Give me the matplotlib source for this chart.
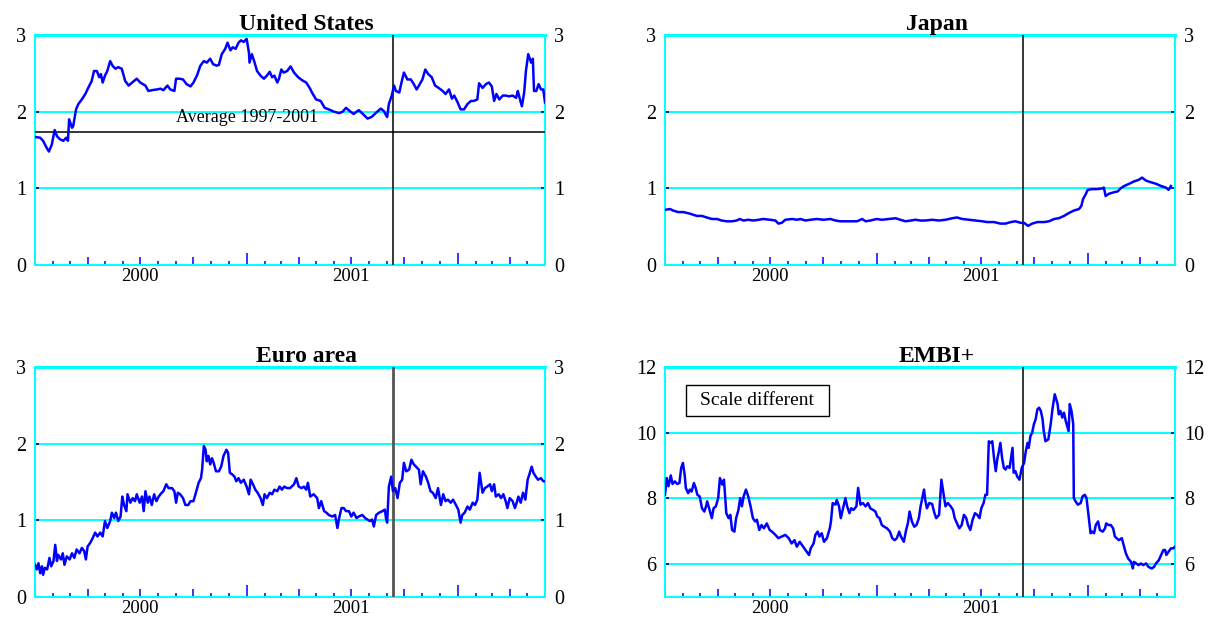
import matplotlib
matplotlib.use("Agg")
import matplotlib.pyplot as plt
import matplotlib.dates as mdates
from matplotlib.patches import Rectangle
import pandas as pd

plt.rcParams['font.family'] = ['Liberation Serif', 'DejaVu Serif']

# ---------------- data (x = days since 2000-01-01) ----------------
BASE_DATE = "2000-01-01"

us_days = [0, 9, 14, 20, 24, 29, 34, 38, 43, 49,
           54, 57, 59, 64, 66, 71, 75, 81, 87, 92,
           98, 102, 107, 111, 114, 117, 121, 125, 130, 134,
           139, 144, 150, 156, 162, 168, 176, 182, 191, 196,
           202, 211, 217, 222, 229, 234, 241, 244, 250, 256,
           262, 269, 274, 280, 286, 292, 297, 303, 308, 314,
           318, 323, 329, 333, 338, 342, 347, 352, 356, 361,
           366, 370, 371, 375, 379, 384, 390, 396, 401, 406,
           410, 414, 419, 422, 426, 430, 436, 442,
           448, 455, 462, 469, 475, 479, 486, 494, 501, 508,
           517, 526, 532, 538, 544, 551, 560, 567, 575, 582,
           589, 598, 603, 609, 612, 617, 621, 624, 630, 635,
           638, 644, 650, 655, 660, 664, 670, 675, 680, 686,
           692, 698, 705, 710, 716, 721, 725, 731, 736, 742,
           748, 754, 759, 765, 768, 774, 780, 785, 790, 794,
           798, 803, 809, 814, 820, 826, 832, 835, 837, 842,
           846, 849, 853, 858, 861, 863, 867, 871, 875, 879,
           882]
us_vals = [1.67, 1.66, 1.62, 1.53, 1.48, 1.57, 1.76, 1.68, 1.64, 1.62,
           1.66, 1.62, 1.90, 1.79, 1.81, 2.03, 2.10, 2.16, 2.23, 2.31,
           2.40, 2.53, 2.53, 2.45, 2.49, 2.38, 2.47, 2.53, 2.66, 2.60,
           2.56, 2.58, 2.56, 2.40, 2.34, 2.38, 2.43, 2.38, 2.34, 2.27,
           2.28, 2.29, 2.30, 2.28, 2.34, 2.29, 2.27, 2.43, 2.43, 2.42,
           2.36, 2.33, 2.38, 2.47, 2.60, 2.66, 2.64, 2.69, 2.62, 2.60,
           2.61, 2.75, 2.82, 2.90, 2.80, 2.84, 2.82, 2.90, 2.93, 2.91,
           2.95, 2.77, 2.64, 2.75, 2.66, 2.53, 2.47, 2.43, 2.47, 2.52,
           2.45, 2.47, 2.38, 2.43, 2.55, 2.51, 2.53, 2.59,
           2.51, 2.45, 2.41, 2.38, 2.31, 2.25, 2.16, 2.14, 2.05, 2.03,
           2.00, 1.98, 2.00, 2.05, 2.01, 1.97, 2.02, 1.97, 1.91, 1.93,
           1.98, 2.04, 2.01, 1.93, 2.10, 2.21, 2.34, 2.27, 2.25, 2.42,
           2.51, 2.42, 2.42, 2.36, 2.29, 2.34, 2.42, 2.55, 2.49, 2.45,
           2.34, 2.31, 2.27, 2.23, 2.29, 2.17, 2.21, 2.12, 2.03, 2.03,
           2.10, 2.14, 2.14, 2.16, 2.37, 2.31, 2.36, 2.38, 2.33, 2.14,
           2.23, 2.16, 2.21, 2.21, 2.20, 2.21, 2.18, 2.27, 2.21, 2.07,
           2.25, 2.53, 2.75, 2.64, 2.69, 2.27, 2.27, 2.36, 2.29, 2.29,
           2.12]
us_average = 1.74

jp_days = [0, 9, 14, 23, 32, 43, 55, 64, 72, 81,
           90, 98, 107, 116, 124, 129, 136, 144, 153, 162,
           170, 182, 191, 196, 202, 208, 220, 228, 234, 243,
           251, 263, 274, 286, 295, 303, 315, 323, 332, 341,
           347, 355, 366, 375, 387, 399, 407, 416, 425, 433,
           442, 450, 462, 474, 485, 497, 505, 514, 526, 537,
           549, 557, 569, 580, 589, 598, 606, 615, 621, 628,
           635, 644, 656, 664, 673, 681, 690, 699, 707, 716,
           720, 723, 728, 731, 739, 748, 757, 759, 762, 768,
           777, 783, 788, 794, 803, 811, 819, 825, 832, 840,
           849, 858, 866, 871, 875]
jp_vals = [0.72, 0.73, 0.71, 0.69, 0.69, 0.67, 0.64, 0.64, 0.62, 0.60,
           0.60, 0.58, 0.57, 0.57, 0.58, 0.60, 0.58, 0.59, 0.58, 0.59,
           0.60, 0.59, 0.58, 0.54, 0.55, 0.59, 0.60, 0.59, 0.60, 0.58,
           0.59, 0.60, 0.59, 0.60, 0.58, 0.57, 0.57, 0.57, 0.57, 0.60,
           0.57, 0.58, 0.60, 0.59, 0.60, 0.61, 0.59, 0.57, 0.58, 0.59,
           0.58, 0.58, 0.59, 0.58, 0.59, 0.61, 0.62, 0.60, 0.59, 0.58,
           0.57, 0.56, 0.56, 0.54, 0.54, 0.56, 0.57, 0.55, 0.55, 0.51,
           0.54, 0.56, 0.56, 0.57, 0.60, 0.61, 0.64, 0.68, 0.71, 0.73,
           0.77, 0.86, 0.93, 0.98, 0.99, 0.99, 1.00, 1.01, 0.90, 0.93,
           0.95, 0.96, 1.00, 1.03, 1.06, 1.09, 1.11, 1.14, 1.10, 1.08,
           1.06, 1.03, 1.01, 0.98, 1.03]

eu_days = [0, 3, 6, 9, 12, 14, 17, 21, 25, 28,
           32, 35, 38, 40, 45, 48, 51, 55, 60, 64,
           68, 72, 77, 81, 85, 88, 91, 95, 100, 104,
           108, 113, 117, 121, 125, 130, 133, 137, 140, 144,
           148, 151, 154, 158, 160, 165, 169, 173, 176, 181,
           185, 188, 191, 195, 198, 202, 206, 210, 214, 218,
           222, 227, 231, 237, 241, 244, 247, 251, 256, 260,
           265, 269, 274, 279, 283, 287, 289, 292, 295, 297,
           300, 303, 306, 309, 313, 318, 322, 326, 331, 334,
           337, 341, 345, 348, 352, 356, 361, 366, 370, 373,
           377, 381, 385, 390, 394, 397, 401, 406, 410, 414,
           419, 423, 427, 431, 436, 441,
           448, 452, 456, 461, 465, 469, 472, 476, 482, 488,
           491, 495, 500, 504, 508, 514, 519, 523, 526, 530,
           534, 538, 543, 547, 551, 556, 560, 566, 571, 575,
           579, 583, 586, 590, 595, 601, 605, 607, 609, 612,
           616, 619, 623, 627, 631, 635, 638, 642, 647, 651,
           655, 659, 664, 667, 671, 676, 680, 684, 688, 693,
           697, 702, 706, 710, 714, 719, 723, 728, 732, 736,
           739, 743, 748, 752, 757, 761, 765, 769, 774, 778,
           782, 787, 790, 794, 797, 802, 806, 810, 814, 817,
           821, 826, 830, 833, 836, 840, 844, 848, 852, 855,
           859, 862, 866, 870, 875, 879, 882]
eu_vals = [0.42, 0.36, 0.44, 0.31, 0.40, 0.29, 0.38, 0.36, 0.51, 0.40,
           0.47, 0.68, 0.47, 0.55, 0.49, 0.57, 0.42, 0.53, 0.49, 0.57,
           0.51, 0.62, 0.57, 0.64, 0.60, 0.49, 0.66, 0.70, 0.77, 0.84,
           0.79, 0.84, 0.79, 0.99, 0.90, 0.99, 1.10, 1.03, 1.10, 0.99,
           1.05, 1.31, 1.20, 1.12, 1.34, 1.23, 1.29, 1.25, 1.34, 1.23,
           1.31, 1.12, 1.38, 1.23, 1.31, 1.20, 1.34, 1.25, 1.31, 1.35,
           1.38, 1.47, 1.42, 1.42, 1.38, 1.23, 1.36, 1.34, 1.29, 1.20,
           1.20, 1.25, 1.25, 1.38, 1.49, 1.55, 1.66, 1.97, 1.92, 1.77,
           1.84, 1.73, 1.81, 1.75, 1.64, 1.64, 1.70, 1.84, 1.92, 1.88,
           1.62, 1.60, 1.57, 1.51, 1.55, 1.49, 1.53, 1.44, 1.34, 1.53,
           1.47, 1.40, 1.36, 1.29, 1.20, 1.34, 1.29, 1.36, 1.34, 1.40,
           1.38, 1.44, 1.40, 1.44, 1.42, 1.42,
           1.47, 1.55, 1.44, 1.42, 1.44, 1.40, 1.49, 1.31, 1.34, 1.29,
           1.16, 1.25, 1.12, 1.10, 1.07, 1.05, 1.07, 0.90, 1.03, 1.16,
           1.16, 1.12, 1.12, 1.05, 1.10, 1.03, 1.05, 1.07, 1.03, 1.01,
           0.99, 1.01, 0.92, 1.07, 1.10, 1.12, 1.14, 1.03, 0.97, 1.44,
           1.57, 1.38, 1.42, 1.29, 1.49, 1.53, 1.75, 1.64, 1.66, 1.79,
           1.73, 1.70, 1.66, 1.47, 1.64, 1.57, 1.49, 1.38, 1.36, 1.29,
           1.42, 1.20, 1.34, 1.25, 1.27, 1.23, 1.27, 1.20, 1.14, 0.97,
           1.07, 1.10, 1.18, 1.14, 1.23, 1.20, 1.27, 1.62, 1.36, 1.42,
           1.44, 1.47, 1.38, 1.47, 1.31, 1.34, 1.29, 1.34, 1.25, 1.16,
           1.29, 1.25, 1.16, 1.23, 1.31, 1.23, 1.36, 1.27, 1.53, 1.60,
           1.70, 1.62, 1.57, 1.53, 1.55, 1.51, 1.51]

embi_days = [0, 3, 6, 10, 13, 17, 21, 25, 28, 31,
             34, 36, 40, 43, 46, 50, 53, 56, 60, 64,
             68, 71, 73, 77, 81, 84, 88, 92, 95, 99,
             102, 106, 110, 113, 116, 120, 123, 127, 130, 133,
             136, 140, 144, 148, 152, 156, 159, 163, 167, 171,
             176, 181, 185, 191, 196, 202, 208, 214, 219, 224,
             228, 233, 237, 241, 245, 249, 252, 257, 260, 264,
             267, 271, 275, 280, 285, 287, 290, 295, 297, 301,
             304, 308, 312, 315, 319, 322, 326, 331, 334, 338,
             342, 347, 351, 355, 360, 364, 367, 371, 375, 379,
             384, 389, 393, 397, 401, 405, 408, 413, 417, 420,
             423, 427, 431, 435, 439, 442,
             448, 450, 453, 457, 462, 466, 469, 474, 478, 482,
             485, 489, 494, 498, 501, 505, 509, 513, 517, 521,
             524, 528, 532, 536, 540, 544, 547, 551, 554, 557,
             560, 563, 566, 569, 572, 575, 577, 580, 583, 586,
             589, 592, 596, 601, 603, 606, 609, 613, 617, 621,
             624, 627, 629, 632, 635, 638, 641, 644, 647, 650,
             653, 655, 658, 663, 667, 670, 674, 679, 681, 684,
             687, 690, 693, 698, 700, 703, 706, 707, 710, 714,
             719, 722, 726, 729, 733, 736, 739, 742, 745, 749,
             752, 757, 761, 763, 767, 771, 775, 778, 781, 785,
             790, 794, 797, 801, 806, 809, 811, 815, 819, 823,
             827, 832, 836, 839, 842, 846, 849, 854, 858, 862,
             865, 867, 871, 875, 879, 882, 885]
embi_vals = [8.11, 8.62, 8.37, 8.70, 8.44, 8.52, 8.44, 8.47, 8.93, 9.08,
             8.72, 8.32, 8.16, 8.27, 8.21, 8.47, 8.32, 8.11, 8.06, 7.70,
             7.60, 7.76, 7.91, 7.65, 7.40, 7.70, 7.76, 8.01, 8.62, 8.42,
             8.57, 7.55, 7.40, 7.50, 7.04, 6.99, 7.40, 7.65, 8.01, 7.76,
             8.06, 8.27, 8.06, 7.76, 7.40, 7.30, 7.35, 7.04, 7.19, 7.09,
             7.24, 7.04, 6.99, 6.89, 6.79, 6.84, 6.89, 6.79, 6.63, 6.73,
             6.53, 6.68, 6.58, 6.48, 6.38, 6.28, 6.48, 6.63, 6.89, 6.99,
             6.84, 6.94, 6.68, 6.79, 7.09, 7.30, 7.86, 7.81, 7.96, 7.76,
             7.40, 7.70, 8.01, 7.76, 7.55, 7.70, 7.65, 7.76, 8.32, 7.81,
             7.86, 7.76, 7.86, 7.70, 7.65, 7.60, 7.45, 7.40, 7.19, 7.14,
             7.09, 6.99, 6.79, 6.73, 6.79, 6.99, 6.84, 6.68, 7.04, 7.24,
             7.60, 7.30, 7.14, 7.19, 7.40, 7.76,
             8.27, 7.96, 7.70, 7.86, 7.83, 7.55, 7.40, 7.50, 8.57, 8.11,
             7.76, 7.86, 7.76, 7.65, 7.40, 7.24, 7.09, 7.19, 7.50, 7.40,
             7.19, 7.04, 7.35, 7.55, 7.50, 7.40, 7.70, 7.86, 8.11, 8.11,
             9.74, 9.69, 9.74, 9.23, 8.83, 9.23, 9.39, 9.69, 9.23, 8.93,
             8.88, 8.98, 8.93, 9.54, 8.78, 8.83, 8.67, 8.57, 8.93, 9.08,
             9.44, 9.69, 9.54, 9.90, 10.00, 10.26, 10.41, 10.71, 10.76, 10.66,
             10.41, 10.05, 9.74, 9.80, 10.26, 10.71, 11.17, 10.87, 10.56, 10.66,
             10.46, 10.61, 10.36, 10.05, 10.87, 10.66, 10.26, 8.01, 7.91, 7.81,
             7.86, 8.06, 8.11, 8.01, 7.40, 6.94, 6.99, 6.94, 7.19, 7.30,
             7.04, 6.99, 7.09, 7.24, 7.19, 7.19, 7.09, 6.84, 6.79, 6.73,
             6.79, 6.53, 6.33, 6.17, 6.07, 5.87, 6.07, 6.02, 5.97, 6.02,
             5.97, 6.02, 5.92, 5.89, 5.87, 5.92, 6.02, 6.12, 6.28, 6.43,
             6.43, 6.28, 6.38, 6.48, 6.48, 6.53, 6.58]

titles = ["United States", "Japan", "Euro area", "EMBI+"]
year_labels = ["2000", "2001"]
year_label_dates = ["2000-07-01", "2001-07-01"]
event_date = "2001-09-11"
x_start, x_end = "2000-01-01", "2002-06-01"
average_label = "Average 1997-2001"
average_label_pos = ("2000-09-01", 1.93)
note_label = "Scale different"

# ---------------- styling ----------------
CYAN = "#00FFFF"
BLUE = "#0000FF"
W, H = 1208, 621
fig = plt.figure(figsize=(W / 100, H / 100), dpi=100)


def px_axes(l, t, r, b):
    return fig.add_axes([l / W, 1 - b / H, (r - l) / W, (b - t) / H])


def to_dates(days):
    return pd.Timestamp(BASE_DATE) + pd.to_timedelta(days, unit="D")


def style(ax, title, ylim, yticks, vcolor="black", vlw=1.1):
    ax.set_xlim(mdates.date2num(pd.Timestamp(x_start)), mdates.date2num(pd.Timestamp(x_end)))
    ax.set_ylim(*ylim)
    ax.set_yticks(yticks)
    ax.set_yticklabels([str(t) for t in yticks])
    ax.grid(axis="y", color=CYAN, lw=1.4, zorder=0)
    ax.set_axisbelow(True)
    for s in ax.spines.values():
        s.set_color(CYAN)
        s.set_linewidth(1.4)
    ax.spines["top"].set_linewidth(2.2)
    ax.xaxis.remove_overlapping_locs = False
    months = pd.date_range(x_start, x_end, freq="MS")
    ax.set_xticks(mdates.date2num(months))
    ax.set_xticklabels([""] * len(months))
    ax.tick_params(axis="x", which="major", direction="in", color=BLUE, width=1.1,
                   bottom=True, top=False)
    for tick, m in zip(ax.xaxis.get_major_ticks(), months):
        if m.month == 1:
            L = 9
        elif m.month in (4, 7, 10):
            L = 5.5
        else:
            L = 2.8
        tick.tick1line.set_markersize(L)
    ax.set_xticks(mdates.date2num(pd.to_datetime(year_label_dates)), minor=True)
    ax.set_xticklabels(year_labels, minor=True)
    ax.tick_params(axis="x", which="minor", length=0, labelsize=13.5, pad=2)
    ax.tick_params(axis="y", which="major", left=True, right=True, labelleft=True,
                   labelright=True, direction="in", length=3, color="#0000AA",
                   width=1.2, labelsize=14.5, pad=6.5)
    ax.axvline(mdates.date2num(pd.Timestamp(event_date)), color=vcolor, lw=vlw, zorder=3)
    ax.set_title(title, fontsize=17, fontweight="bold", pad=0, x=0.533)


ax_us = px_axes(35, 35, 545, 265)
ax_jp = px_axes(665, 35, 1175, 265)
ax_eu = px_axes(35, 367, 545, 597)
ax_em = px_axes(665, 367, 1175, 597)

ax_us.plot(to_dates(us_days), us_vals, color=BLUE, lw=1.8, zorder=4)
style(ax_us, titles[0], (0, 3), [0, 1, 2, 3])
ax_us.axhline(us_average, color="black", lw=1.1, zorder=3)
ax_us.text(mdates.date2num(pd.Timestamp(average_label_pos[0])), average_label_pos[1],
           average_label, fontsize=13, ha="left", va="center", zorder=5)

ax_jp.plot(to_dates(jp_days), jp_vals, color=BLUE, lw=1.8, zorder=4)
style(ax_jp, titles[1], (0, 3), [0, 1, 2, 3])

ax_eu.plot(to_dates(eu_days), eu_vals, color=BLUE, lw=1.8, zorder=4)
style(ax_eu, titles[2], (0, 3), [0, 1, 2, 3], vcolor="#555555", vlw=2.0)

ax_em.plot(to_dates(embi_days), embi_vals, color=BLUE, lw=1.8, zorder=4)
style(ax_em, titles[3], (5, 12), [6, 8, 10, 12])
ax_em.add_patch(Rectangle((0.041, 0.785), 0.28, 0.135, transform=ax_em.transAxes,
                          facecolor="white", edgecolor="black", lw=1.0, zorder=6))
ax_em.text(0.041 + 0.14, 0.785 + 0.0675, note_label, transform=ax_em.transAxes,
           fontsize=14, ha="center", va="center", zorder=7)

fig.savefig("out.png", dpi=100)
